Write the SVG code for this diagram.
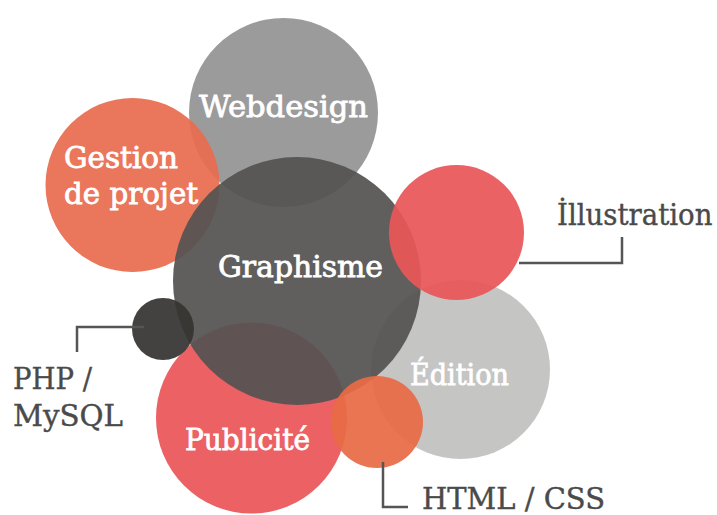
<svg xmlns="http://www.w3.org/2000/svg" width="717" height="515" viewBox="0 0 717 515">
<style>
.c{opacity:0.93}
.in{font-family:"DejaVu Serif","Liberation Serif",serif;fill:#ffffff;stroke:#ffffff;stroke-width:0.8;font-size:29px}
.out{font-family:"DejaVu Serif","Liberation Serif",serif;fill:#4a4a4a;stroke:#4a4a4a;stroke-width:0.4;font-size:30px}
.ln{fill:none;stroke:#555555;stroke-width:2.5}
</style>
<rect width="717" height="515" fill="#ffffff"/>
<g id="webdesign"><circle class="c" cx="283.5" cy="112.5" r="94.5" fill="#939393"/><text class="in" x="199" y="117" textLength="169" lengthAdjust="spacingAndGlyphs">Webdesign</text></g>
<g id="gestion"><circle class="c" cx="132.5" cy="185" r="87" fill="#e86c4f"/><text class="in" x="64" y="168" textLength="114" lengthAdjust="spacingAndGlyphs">Gestion</text><text class="in" x="64" y="204" textLength="134" lengthAdjust="spacingAndGlyphs">de projet</text></g>
<g id="publicite"><circle class="c" cx="251.5" cy="418" r="95.5" fill="#e95558"/><text class="in" x="185" y="450" textLength="125" lengthAdjust="spacingAndGlyphs">Publicité</text></g>
<g id="edition"><circle class="c" cx="460.5" cy="369.5" r="89.5" fill="#c1c1c0"/><text class="in" x="410" y="385" textLength="99" lengthAdjust="spacingAndGlyphs">Édition</text></g>
<g id="graphisme"><circle class="c" cx="297" cy="281" r="124" fill="#545352"/><text class="in" x="218" y="277" textLength="165" lengthAdjust="spacingAndGlyphs">Graphisme</text></g>
<g id="illustration"><circle class="c" cx="456.5" cy="232.5" r="67.5" fill="#ea5658"/><text class="out" transform="translate(557,225) scale(0.92,1)" x="0" y="0">İllustration</text></g>
<g id="php"><circle class="c" cx="163" cy="329" r="31" fill="#353432"/><text class="out" x="13" y="389" textLength="79" lengthAdjust="spacingAndGlyphs">PHP /</text><text class="out" x="13" y="426" textLength="110" lengthAdjust="spacingAndGlyphs">MySQL</text></g>
<g id="html"><circle class="c" cx="377" cy="422" r="46" fill="#e86a45"/><text class="out" x="422" y="509" textLength="183" lengthAdjust="spacingAndGlyphs">HTML / CSS</text></g>
<g id="connectors">
<polyline class="ln" points="519,263 622,263 622,237"/>
<polyline class="ln" points="144,327 77,327 77,352"/>
<polyline class="ln" points="383,462 383,507 408,507"/>
</g>
</svg>
